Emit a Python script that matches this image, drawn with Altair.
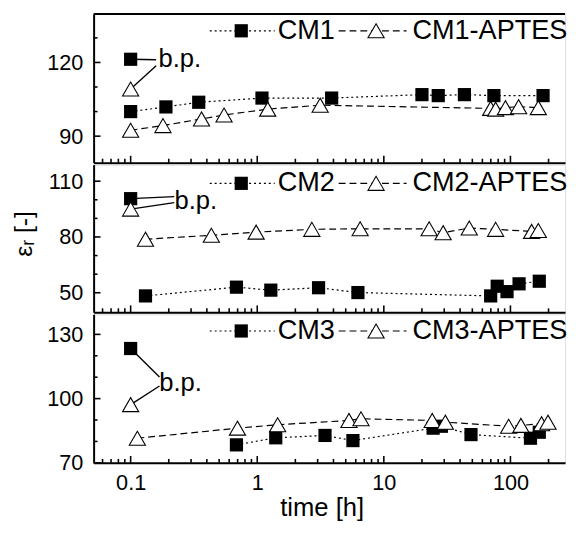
import altair as alt
import pandas as pd

FONT = "Liberation Sans"

# ---------------- data ----------------
# Panel 1
cm1_t = [0.1, 0.19, 0.345, 1.09, 3.87, 20, 26.9, 43.3, 74, 181]
cm1_e = [100.0, 101.9, 103.8, 105.5, 105.5, 106.9, 106.5, 106.9, 106.5, 106.5]
cm1a_t = [0.1, 0.18, 0.363, 0.547, 1.21, 3.14, 69.8, 76.4, 91.3, 116, 166]
cm1a_e = [92.4, 94.3, 97.0, 98.6, 101.0, 102.6, 101.3, 101.0, 101.6, 102.0, 101.6]
cm1_bp = [121.3, 109.2]          # b.p. values (square, triangle) at t = 0.1

# Panel 2
cm2_t = [0.131, 0.685, 1.28, 3.05, 6.24, 69.8, 78.6, 94, 117, 169]
cm2_e = [48.3, 53.0, 51.4, 52.7, 50.1, 48.3, 53.5, 50.6, 54.8, 56.2]
cm2a_t = [0.131, 0.434, 0.98, 2.7, 6.5, 22.8, 29.4, 47.3, 76.4, 147, 166]
cm2a_e = [78.8, 80.9, 82.6, 84.1, 84.4, 84.4, 82.3, 84.8, 84.1, 83.0, 83.5]
cm2_bp = [100.6, 95.0]

# Panel 3
cm3_t = [0.685, 1.4, 3.43, 5.7, 24.5, 28.5, 48.8, 144, 169]
cm3_e = [78.4, 81.7, 82.8, 80.4, 86.2, 87.1, 83.2, 81.5, 84.3]
cm3a_t = [0.113, 0.698, 1.45, 5.3, 6.6, 24.1, 30.6, 96.8, 121, 176, 198]
cm3a_e = [81.5, 86.2, 87.8, 89.8, 90.6, 89.8, 89.0, 87.1, 87.5, 88.3, 89.0]
cm3_bp = [123.4, 97.2]

BP_T = 0.1
# b.p. annotation: connector end points (t, e) for square / triangle, label anchor (t, e)
bp1_conn = [(0.159, 121.1), (0.159, 118.7)]
bp1_lab = (0.166, 118.0)
bp2_conn = [(0.221, 101.7), (0.221, 98.5)]
bp2_lab = (0.222, 95.0)
bp3_conn = [(0.169, 110.1), (0.169, 105.9)]
bp3_lab = (0.168, 103.4)

x_major = [0.1, 1, 10, 100]
x_minor = [0.06, 0.07, 0.08, 0.09,
           0.2, 0.3, 0.4, 0.5, 0.6, 0.7, 0.8, 0.9,
           2, 3, 4, 5, 6, 7, 8, 9,
           20, 30, 40, 50, 60, 70, 80, 90, 200]

y1_dom, y1_major, y1_minor = [79.2, 139.7], [90, 120], [100, 110, 130]
y2_dom, y2_major, y2_minor = [39.5, 118.9], [50, 80, 110], [60, 70, 90, 100]
y3_dom, y3_major, y3_minor = [70, 139.4], [70, 100, 130], [80, 90, 110, 120]

XDOM = [0.051, 270]
W = 479
LEG_FS = 27.5


def panel(sq_t, sq_e, tr_t, tr_e, bp, conn, lab, ydom, ymaj, ymin, names, H,
          leg_y, top=False, bottom=False, ytitle=False):
    xs = alt.Scale(type="log", domain=XDOM, nice=False)
    ys = alt.Scale(domain=ydom, nice=False, zero=False)
    one = pd.DataFrame({"k": [0]})

    if bottom:
        xaxis = alt.Axis(values=x_major, format="~g", labelFontSize=22, labelFont=FONT,
                         labelColor="black", labelPadding=10, labelFlush=False,
                         labelOverlap=False, ticks=False, tickSize=0, domain=True,
                         domainWidth=2, domainColor="black", grid=False,
                         title="time [h]", titleFontSize=26, titleFont=FONT,
                         titleFontWeight="normal", titleColor="black",
                         titleX=231.7, titleY=54, titleBaseline="alphabetic")
    else:
        xaxis = alt.Axis(values=x_major, labels=False, ticks=False, tickSize=0,
                         domain=True, domainWidth=2, domainColor="black",
                         grid=False, title=None)
    yargs = dict(values=ymaj, format="d", labelFontSize=22, labelFont=FONT,
                 labelColor="black", labelPadding=11, labelFlush=False,
                 labelOverlap=False, ticks=False, tickSize=0, domain=True,
                 domainWidth=2, domainColor="black", grid=False)
    if ytitle:
        yaxis = alt.Axis(title="εᵣ [-]", titleFontSize=25, titleFont=FONT,
                         titleFontWeight="normal", titleColor="black",
                         titleAngle=270, titleX=-63, titleY=70,
                         titleAlign="center", titleBaseline="alphabetic", **yargs)
    else:
        yaxis = alt.Axis(title=None, **yargs)

    def X(f="t"):
        return alt.X(f"{f}:Q", scale=xs, axis=xaxis)

    def Y(f="e"):
        return alt.Y(f"{f}:Q", scale=ys, axis=yaxis)

    layers = []
    # x ticks (inward)
    layers.append(alt.Chart(pd.DataFrame({"t": x_major})).mark_rule(
        color="black", strokeWidth=1.6).encode(
        x=X(), y=alt.value(H), y2=alt.value(H - 7)))
    layers.append(alt.Chart(pd.DataFrame({"t": x_minor})).mark_rule(
        color="black", strokeWidth=1.6).encode(
        x=X(), y=alt.value(H), y2=alt.value(H - 4)))
    # y ticks (inward)
    layers.append(alt.Chart(pd.DataFrame({"e": ymaj})).mark_rule(
        color="black", strokeWidth=1.6).encode(
        y=Y(), x=alt.value(0), x2=alt.value(7)))
    layers.append(alt.Chart(pd.DataFrame({"e": ymin})).mark_rule(
        color="black", strokeWidth=1.6).encode(
        y=Y(), x=alt.value(0), x2=alt.value(4)))
    if top:
        layers.append(alt.Chart(one).mark_rule(color="black", strokeWidth=2).encode(
            x=alt.value(0), x2=alt.value(W), y=alt.value(0)))

    sq = pd.DataFrame({"t": sq_t, "e": sq_e})
    tr = pd.DataFrame({"t": tr_t, "e": tr_e})

    layers.append(alt.Chart(sq).mark_line(color="black", strokeWidth=1.2,
                                          strokeDash=[2, 3]).encode(x=X(), y=Y()))
    layers.append(alt.Chart(tr).mark_line(color="black", strokeWidth=1.2,
                                          strokeDash=[7, 4]).encode(x=X(), y=Y()))
    cdf = pd.DataFrame({"t": [BP_T, BP_T], "e": bp,
                        "t1": [c[0] for c in conn], "e1": [c[1] for c in conn]})
    layers.append(alt.Chart(cdf).mark_rule(color="black", strokeWidth=1.4).encode(
        x=X(), x2="t1:Q", y=Y(), y2="e1:Q"))

    sq_all = pd.DataFrame({"t": sq_t + [BP_T], "e": sq_e + [bp[0]]})
    tr_all = pd.DataFrame({"t": tr_t + [BP_T], "e": tr_e + [bp[1]]})
    layers.append(alt.Chart(sq_all).mark_point(shape="square", filled=True,
                                               color="black", size=180, opacity=1
                                               ).encode(x=X(), y=Y()))
    layers.append(alt.Chart(tr_all).mark_point(shape="triangle-up", filled=True,
                                               fill="white", stroke="black",
                                               strokeWidth=1.1, size=270, opacity=1
                                               ).encode(x=X(), y=Y()))
    ldf = pd.DataFrame({"t": [lab[0]], "e": [lab[1]], "s": ["b.p."]})
    layers.append(alt.Chart(ldf).mark_text(align="left", baseline="alphabetic",
                                           fontSize=26, font=FONT, color="black"
                                           ).encode(x=X(), y=Y(), text="s:N"))

    # in-panel legend
    layers.append(alt.Chart(one).mark_rule(color="black", strokeWidth=1.2,
                                           strokeDash=[2, 3]).encode(
        x=alt.value(118), x2=alt.value(184), y=alt.value(leg_y)))
    layers.append(alt.Chart(one).mark_point(shape="square", filled=True, color="black",
                                            size=180, opacity=1).encode(
        x=alt.value(150), y=alt.value(leg_y)))
    layers.append(alt.Chart(one).mark_text(align="left", baseline="middle",
                                           fontSize=LEG_FS, font=FONT, color="black",
                                           text=names[0]
                                           ).encode(x=alt.value(187), y=alt.value(leg_y)))
    layers.append(alt.Chart(one).mark_rule(color="black", strokeWidth=1.2,
                                           strokeDash=[7, 4]).encode(
        x=alt.value(249), x2=alt.value(318), y=alt.value(leg_y)))
    layers.append(alt.Chart(one).mark_point(shape="triangle-up", filled=True,
                                            fill="white", stroke="black",
                                            strokeWidth=1.1, size=270, opacity=1).encode(
        x=alt.value(287), y=alt.value(leg_y)))
    layers.append(alt.Chart(one).mark_text(align="left", baseline="middle",
                                           fontSize=LEG_FS, font=FONT, color="black",
                                           text=names[1]
                                           ).encode(x=alt.value(324), y=alt.value(leg_y)))

    return alt.layer(*layers).properties(width=W, height=H)


p1 = panel(cm1_t, cm1_e, cm1a_t, cm1a_e, cm1_bp, bp1_conn, bp1_lab, y1_dom,
           y1_major, y1_minor, ["CM1", "CM1-APTES"], 151, 17, top=True)
p2 = panel(cm2_t, cm2_e, cm2a_t, cm2a_e, cm2_bp, bp2_conn, bp2_lab, y2_dom,
           y2_major, y2_minor, ["CM2", "CM2-APTES"], 150, 19, ytitle=True)
p3 = panel(cm3_t, cm3_e, cm3a_t, cm3a_e, cm3_bp, bp3_conn, bp3_lab, y3_dom,
           y3_major, y3_minor, ["CM3", "CM3-APTES"], 151, 17, bottom=True)

chart = alt.vconcat(p1, p2, p3, spacing=-4).properties(
    padding={"left": 3, "top": 0, "right": 0, "bottom": 0}
).configure_view(stroke=None).configure(font=FONT)

chart.save("out.html", embed_options={"renderer": "svg", "actions": False})
